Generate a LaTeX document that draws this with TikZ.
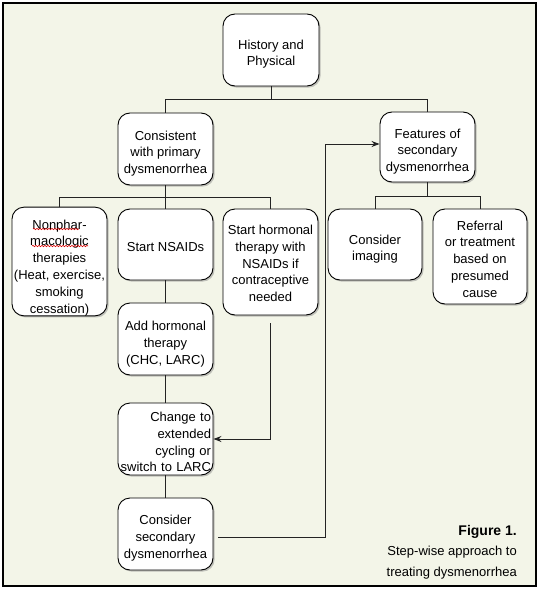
\documentclass[tikz,border=0pt]{standalone}
\usepackage{fontspec}
\setmainfont{Liberation Sans}
\usetikzlibrary{shadows,decorations.pathmorphing,arrows.meta}
\definecolor{bgcream}{RGB}{243,245,232}
\definecolor{linecol}{RGB}{35,35,35}
\def\tdn{17.5pt}
\newcommand{\tstrut}{\rule{0pt}{\tdn}}
\begin{document}
\begin{tikzpicture}[x=1pt,y=-1pt,
  tdown/.code={\def\tdn{#1}},
  box/.style={draw=black, line width=0.9pt, fill=white, rounded corners=12pt,
    align=center, inner sep=0pt, font=\fontsize{13}{16.8}\selectfont,
    drop shadow={shadow xshift=1.6pt, shadow yshift=-1.6pt, opacity=0.45}},
  conn/.style={draw=linecol, line width=0.9pt},
  arr/.style={conn, -{Stealth[length=8pt,width=6pt]}},
  squig/.style={draw=red!85!black, line width=0.6pt, decorate,
    decoration={snake, segment length=3pt, amplitude=0.7pt}}]
% page and frame
\fill[white] (0,0) rectangle (541,589);
\draw[fill=bgcream, line width=1.3pt] (3,3) rectangle (536,586);
\useasboundingbox (0,0) rectangle (541,589);

% nodes
\node[box, minimum width=96pt, minimum height=72pt] (hist) at (271,50) {\tstrut History and\\Physical};
\node[box, minimum width=95pt, minimum height=72pt, tdown=18.5pt] (cons) at (165.5,149) {\tstrut Consistent\\with primary\\dysmenorrhea};
\node[box, minimum width=95pt, minimum height=70pt, tdown=18.5pt] (feat) at (427.5,147) {\tstrut Features of\\secondary\\dysmenorrhea};
\node[box, minimum width=95pt, minimum height=107pt, tdown=22pt] (nonph) at (59.5,261.5) {\tstrut Nonphar-\\macologic\\therapies\\(Heat, exercise,\\smoking\\cessation)};
\node[box, minimum width=95pt, minimum height=71pt, tdown=13.5pt] (nsaid) at (165.5,244.5) {\tstrut Start NSAIDs};
\node[box, minimum width=95pt, minimum height=106pt, tdown=12.5pt] (shorm) at (270.5,262) {\tstrut Start hormonal\\therapy with\\NSAIDs if\\contraceptive\\needed};
\node[box, minimum width=94pt, minimum height=71pt, tdown=18.5pt] (imag) at (375,244.5) {\tstrut Consider\\imaging};
\node[box, minimum width=94pt, minimum height=95pt, tdown=14.5pt] (refer) at (480,256.5) {\tstrut Referral\\or treatment\\based on\\presumed\\cause};
\node[box, minimum width=95pt, minimum height=72pt, tdown=19.5pt] (addh) at (165.5,339) {\tstrut Add hormonal\\therapy\\(CHC, LARC)};
\node[box, minimum width=95pt, minimum height=72pt, tdown=15.5pt, align=right, text width=91pt] (chg) at (165.5,439) {\tstrut Change to\\extended\\cycling or\\switch to LARC};
\node[box, minimum width=95pt, minimum height=72pt] (csec) at (165.5,534) {\tstrut Consider\\secondary\\dysmenorrhea};

% spell-check underlines
\draw[squig] (33,229) -- (79,229);
\draw[squig] (32,246) -- (88,246);

% tree connectors
\coordinate (j1) at (271,99);
\draw[conn] (hist.south) -- (j1);
\draw[conn] (j1) -| (cons.north);
\draw[conn] (j1) -| (feat.north);
\coordinate (j2) at (165.5,197);
\draw[conn] (cons.south) -- (j2);
\draw[conn] (j2) -| (nonph.north);
\draw[conn] (j2) -- (nsaid.north);
\draw[conn] (j2) -| (shorm.north);
\coordinate (j3) at (427.5,196.5);
\draw[conn] (feat.south) -- (j3);
\draw[conn] (j3) -| (imag.north);
\draw[conn] (j3) -| (refer.north);
\draw[conn] (nsaid.south) -- (addh.north);
\draw[conn] (addh.south) -- (chg.north);
\draw[conn] (chg.south) -- (csec.north);

% arrows
\draw[arr] ([yshift=-8pt]shorm.south) |- (chg.east);
\coordinate (tp) at (325,144);
\draw[arr] ([xshift=5pt,yshift=-3pt]csec.east) -| (tp) -- (feat.west |- tp);

% caption
\node[anchor=east, align=right, inner sep=0pt, font=\fontsize{13}{20.5}\selectfont] (cap) at (517,552)
  {{\fontsize{14}{20.5}\selectfont\bfseries Figure 1.}\\Step-wise approach to\\treating dysmenorrhea};
\end{tikzpicture}
\end{document}
